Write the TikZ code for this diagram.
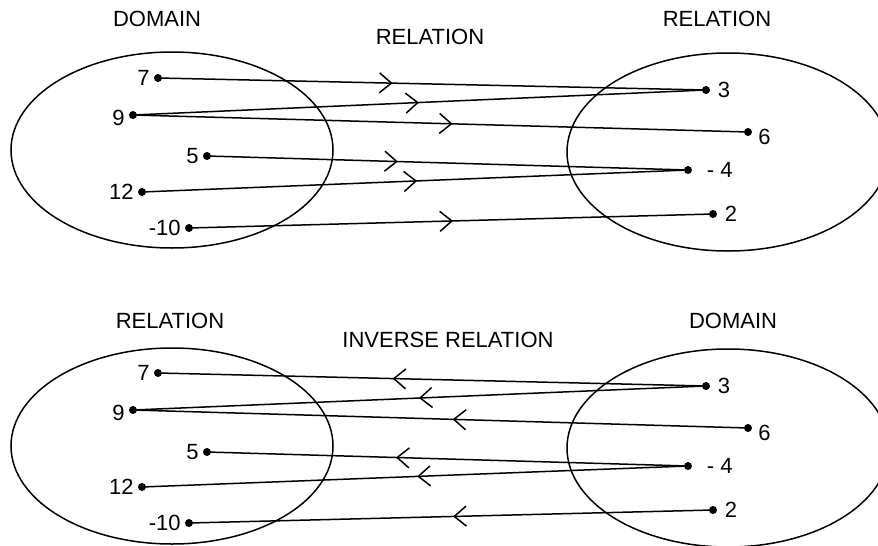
\documentclass[tikz,border=0pt]{standalone}
\usepackage{fontspec}
\setmainfont{Liberation Sans}
\usetikzlibrary{arrows.meta, decorations.markings}

\begin{document}
\begin{tikzpicture}[
    x=1pt, y=-1pt,
    set/.style={draw=black, line width=1.5pt},
    dot/.style={circle, fill=black, inner sep=0pt, minimum size=8pt},
    num/.style={font=\fontsize{22}{26}\selectfont, inner sep=0pt},
    title/.style={font=\fontsize{22}{26}\selectfont, inner sep=0pt},
    link/.style={line width=1.5pt, postaction={decorate},
        decoration={markings, mark=at position #1 with {\arrow{Straight Barb[length=12pt, width=20pt]}}}},
    every label/.style={num}
]
\useasboundingbox (0,0) rectangle (878,546);

% Relation
\draw[set] (172,150) ellipse [x radius=161pt, y radius=98pt];
\draw[set] (728,152) ellipse [x radius=161pt, y radius=99pt];

\node[title] (dom1) at (157,19) {DOMAIN};
\node[title] (rel1) at (430,37) {RELATION};
\node[title] (ran1) at (717,19) {RELATION};

\node[dot, label={[label distance=4pt]left:7}] (d7) at (158,78) {};
\node[dot, label={[label distance=4pt, yshift=-3pt]left:9}] (d9) at (133,115) {};
\node[dot, label={[label distance=4pt]left:5}] (d5) at (207,156) {};
\node[dot, label={[label distance=4pt]left:12}] (d12) at (142,192) {};
\node[dot, label={[label distance=4pt]left:-10}] (dm10) at (189,228) {};

\node[dot, label={[label distance=7.5pt]right:3}] (r3) at (706,90) {};
\node[dot, label={[label distance=6pt, yshift=-5pt]right:6}] (r6) at (748,132) {};
\node[dot, label={[label distance=14.5pt]right:- 4}] (rm4) at (688,170) {};
\node[dot, label={[label distance=7.5pt]right:2}] (r2) at (713,214) {};

\draw[link=0.427] (d7) -- (r3);
\draw[link=0.499] (d9) -- (r3);
\draw[link=0.520] (d9) -- (r6);
\draw[link=0.395] (d5) -- (rm4);
\draw[link=0.504] (d12) -- (rm4);
\draw[link=0.504] (dm10) -- (r2);

% Inverse relation
\draw[set] (172,446) ellipse [x radius=161pt, y radius=98pt];
\draw[set] (728,448) ellipse [x radius=161pt, y radius=99pt];

\node[title] (ran2) at (170,321) {RELATION};
\node[title] (inv2) at (448,340) {INVERSE RELATION};
\node[title] (dom2) at (733,321) {DOMAIN};

\node[dot, label={[label distance=4pt]left:7}] (i7) at (158,373) {};
\node[dot, label={[label distance=4pt, yshift=-3pt]left:9}] (i9) at (133,410) {};
\node[dot, label={[label distance=4pt]left:5}] (i5) at (207,452) {};
\node[dot, label={[label distance=4pt]left:12}] (i12) at (142,487) {};
\node[dot, label={[label distance=4pt]left:-10}] (im10) at (189,523) {};

\node[dot, label={[label distance=7.5pt]right:3}] (j3) at (706,386) {};
\node[dot, label={[label distance=6pt, yshift=-5pt]right:6}] (j6) at (748,428) {};
\node[dot, label={[label distance=14.5pt]right:- 4}] (jm4) at (688,466) {};
\node[dot, label={[label distance=7.5pt]right:2}] (j2) at (713,510) {};

\draw[link=0.573] (j3) -- (i7);
\draw[link=0.501] (j3) -- (i9);
\draw[link=0.480] (j6) -- (i9);
\draw[link=0.609] (jm4) -- (i5);
\draw[link=0.496] (jm4) -- (i12);
\draw[link=0.496] (j2) -- (im10);

\end{tikzpicture}
\end{document}
